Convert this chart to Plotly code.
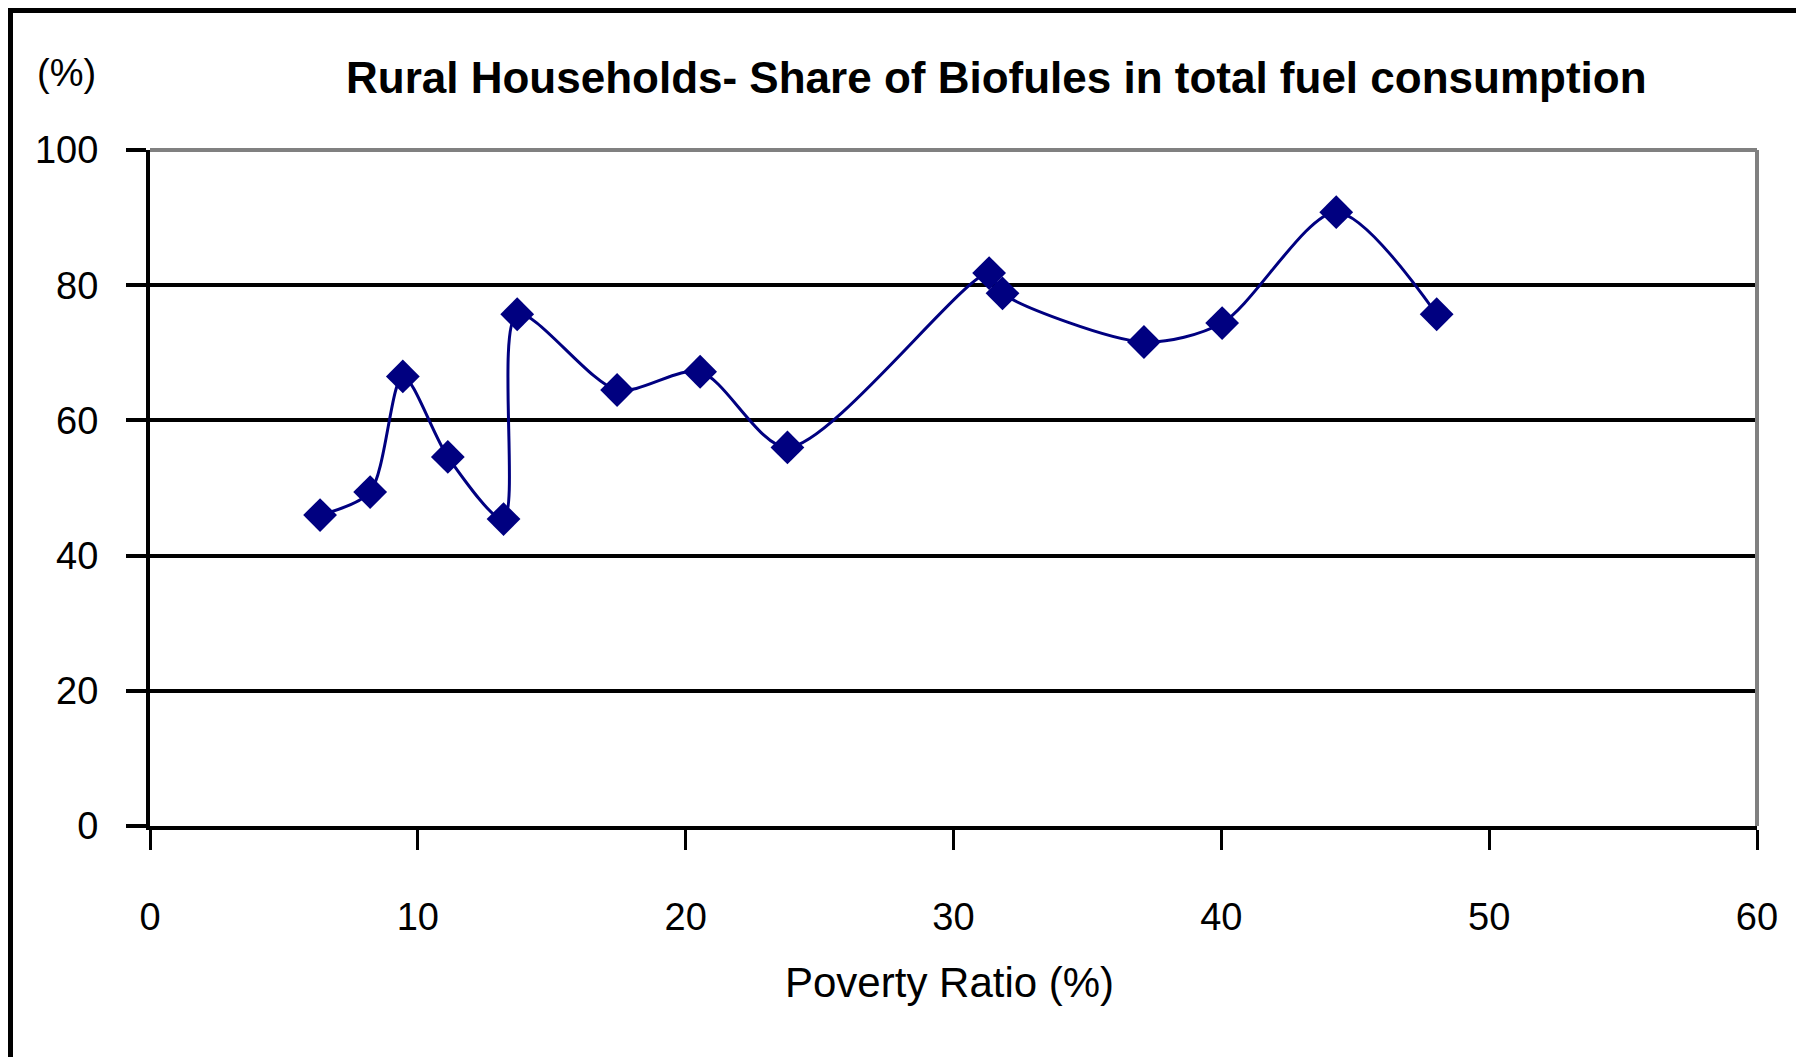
import plotly.graph_objects as go

# Data
poverty_ratio = [6.35, 8.22, 9.44, 11.12, 13.2, 13.71, 17.44, 20.54, 23.8, 31.33, 31.83, 37.11, 40.03, 44.29, 48.04]
biofuel_share = [46.0, 49.4, 66.5, 54.6, 45.4, 75.7, 64.5, 67.2, 56.0, 81.8, 78.8, 71.6, 74.4, 90.8, 75.7]

x_ticks = [0, 10, 20, 30, 40, 50, 60]
y_ticks = [0, 20, 40, 60, 80, 100]

title_text = "Rural Households- Share of Biofules in total fuel consumption"
x_title = "Poverty Ratio (%)"
y_unit = "(%)"

# The page body has an 8px margin; work in page pixels and shift.
OFF = 8
PAGE_W, PAGE_H = 1804, 1057
W, H = PAGE_W - OFF, PAGE_H - OFF
PLOT_L, PLOT_R, PLOT_T, PLOT_B = 150, 1757, 150, 826  # page pixels
L = PLOT_L - OFF
T = PLOT_T - OFF
R = W - (PLOT_R - OFF)
B = H - (PLOT_B - OFF)
PW, PH = W - L - R, H - T - B

def px(xp):
    # page x pixel -> paper coordinate
    return (xp - OFF - L) / PW

def py(yp):
    # page y pixel -> paper coordinate
    return (PLOT_B - yp) / PH

font_main = "Liberation Sans, Arial, sans-serif"
navy = "#000080"

fig = go.Figure()
fig.add_trace(go.Scatter(
    x=poverty_ratio, y=biofuel_share,
    mode="lines+markers",
    line=dict(color=navy, width=3, shape="spline", smoothing=0.8),
    marker=dict(symbol="diamond", size=26, color=navy),
    showlegend=False,
    cliponaxis=False,
))

fig.update_layout(
    width=W, height=H,
    margin=dict(l=L, r=R, t=T, b=B),
    paper_bgcolor="white",
    plot_bgcolor="white",
    font=dict(family=font_main, color="black"),
    xaxis=dict(
        range=[0, 60], tickvals=x_ticks, ticktext=[str(v) for v in x_ticks],
        showgrid=False, zeroline=False,
        showline=True, linecolor="black", linewidth=4,
        ticks="outside", ticklen=20, tickwidth=3, tickcolor="black",
        tickfont=dict(size=38, family=font_main),
        ticklabelstandoff=34,
    ),
    yaxis=dict(
        range=[0, 100], tickvals=y_ticks, ticktext=[str(v) for v in y_ticks],
        showgrid=True, gridcolor="black", gridwidth=3.5,
        zeroline=False,
        showline=True, linecolor="black", linewidth=4,
        ticks="outside", ticklen=20, tickwidth=3.5, tickcolor="black",
        tickfont=dict(size=38, family=font_main),
        ticklabelstandoff=20,
    ),
    shapes=[
        # gray top and right plot border
        dict(type="line", xref="paper", yref="paper", x0=0, x1=1, y0=1, y1=1,
             line=dict(color="#808080", width=4)),
        dict(type="line", xref="paper", yref="paper", x0=1, x1=1, y0=0, y1=1,
             line=dict(color="#808080", width=4)),
        # outer frame (top and left), drawn at the figure's top/left edges
        dict(type="rect", xref="paper", yref="paper", x0=px(OFF), x1=px(PAGE_W), y0=py(OFF + 5), y1=py(OFF),
             line=dict(width=0), fillcolor="black", layer="above"),
        dict(type="rect", xref="paper", yref="paper", x0=px(OFF), x1=px(OFF + 5), y0=py(PAGE_H), y1=py(OFF),
             line=dict(width=0), fillcolor="black", layer="above"),
    ],
    annotations=[
        dict(text="<b>" + title_text + "</b>", xref="paper", yref="paper",
             x=px(996), y=py(78), xanchor="center", yanchor="middle",
             showarrow=False, font=dict(size=44, family=font_main, color="black")),
        dict(text=y_unit, xref="paper", yref="paper",
             x=px(66), y=py(73), xanchor="center", yanchor="middle",
             showarrow=False, font=dict(size=38, family=font_main, color="black")),
        dict(text=x_title, xref="paper", yref="paper",
             x=px(949), y=py(982), xanchor="center", yanchor="middle",
             showarrow=False, font=dict(size=42, family=font_main, color="black")),
    ],
)

fig.write_html("out.html")
